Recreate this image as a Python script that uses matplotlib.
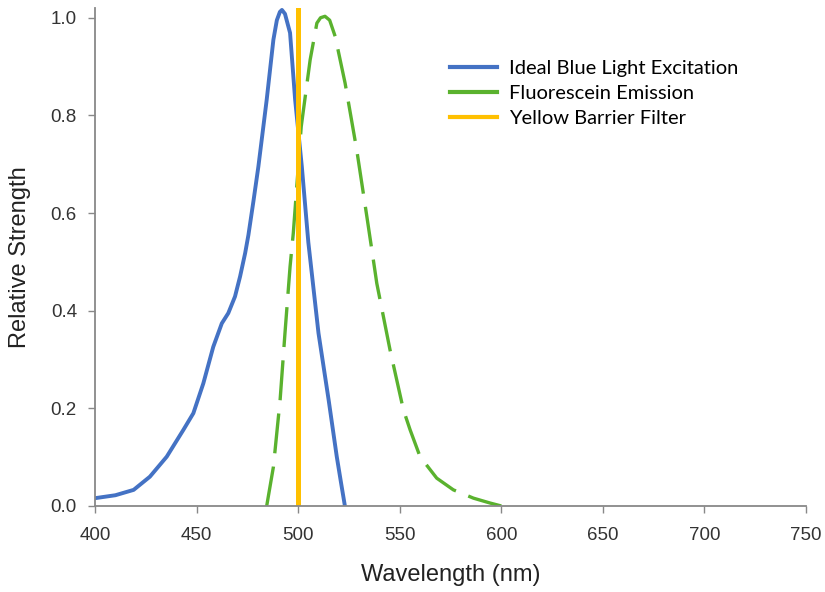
import matplotlib
matplotlib.use("Agg")
import matplotlib.pyplot as plt

# excitation curve (blue)
blue_nm = [400, 410, 419, 427, 435.3, 443.5, 448.4, 453.3, 458.2, 462.4, 465.6, 468.9,
           471.4, 473.9, 475.5, 478, 480.4, 484.5, 487.8, 489.5, 491, 492, 493.5, 496,
           498.5, 501.8, 505, 510, 515, 519, 521, 523]
blue_val = [0.016, 0.022, 0.033, 0.06, 0.101, 0.156, 0.19, 0.251, 0.326, 0.374, 0.395,
            0.429, 0.47, 0.518, 0.555, 0.625, 0.695, 0.832, 0.955, 0.995, 1.012, 1.016,
            1.008, 0.969, 0.832, 0.695, 0.54, 0.354, 0.217, 0.101, 0.05, 0.0]

# emission curve (green, dashed)
green_nm = [484.5, 487.8, 491.1, 493.5, 496, 497.6, 501.5, 505.9, 509.2, 511, 513.2,
            515.5, 518.2, 523.1, 528.8, 533.8, 537, 538.7, 545.2, 551.8, 555.1, 560,
            568.2, 576.4, 586.3, 594.5, 600]
green_val = [0.0, 0.08, 0.217, 0.354, 0.49, 0.559, 0.777, 0.914, 0.989, 1.0, 1.003,
             0.995, 0.962, 0.866, 0.73, 0.593, 0.504, 0.456, 0.32, 0.197, 0.156, 0.101,
             0.057, 0.033, 0.016, 0.006, 0.0]

filter_nm = 500

fig = plt.figure(figsize=(8.25, 5.92), dpi=100)
ax = fig.add_axes([0.1152, 0.1453, 0.8618, 0.8412])

ax.plot(blue_nm, blue_val, color='#4472C4', lw=2.8, label='Ideal Blue Light Excitation')
ax.plot(green_nm, green_val, color='#5AB22E', lw=2.4, dashes=(12, 4),
        label='Fluorescein Emission')
ax.axvline(filter_nm, color='#FFC000', lw=3.6, label='Yellow Barrier Filter')

ax.set_xlim(400, 750)
ax.set_ylim(0, 1.02)
ax.set_xticks(range(400, 751, 50))
ax.set_yticks([0.0, 0.2, 0.4, 0.6, 0.8, 1.0])
ax.set_yticklabels(['0.0', '0.2', '0.4', '0.6', '0.8', '1.0'])

for s in ['top', 'right']:
    ax.spines[s].set_visible(False)
for s in ['left', 'bottom']:
    ax.spines[s].set_color('#888888')
    ax.spines[s].set_linewidth(1.3)
ax.tick_params(colors='#888888', labelcolor='#333333', labelsize=13.5, length=5, width=1)
ax.tick_params(axis='x', pad=10)
ax.tick_params(axis='y', pad=8)
for lab in ax.get_xticklabels() + ax.get_yticklabels():
    lab.set_family('Liberation Sans')

ax.set_xlabel('Wavelength (nm)', fontsize=17, family='Liberation Sans', color='#222222')
ax.set_ylabel('Relative Strength', fontsize=17, family='Liberation Sans', color='#222222')
ax.xaxis.set_label_coords(0.5, -0.117)
ax.yaxis.set_label_coords(-0.09, 0.5)

leg = ax.legend(loc='upper left', bbox_to_anchor=(0.499, 0.896), frameon=False,
                borderpad=0, borderaxespad=0, handlelength=2.35, handletextpad=0.6,
                labelspacing=0.4, prop={'family': 'Lato', 'size': 14.5})
for line in leg.get_lines():
    line.set_linestyle('-')
    line.set_linewidth(3)

fig.savefig('out.png', dpi=100)
